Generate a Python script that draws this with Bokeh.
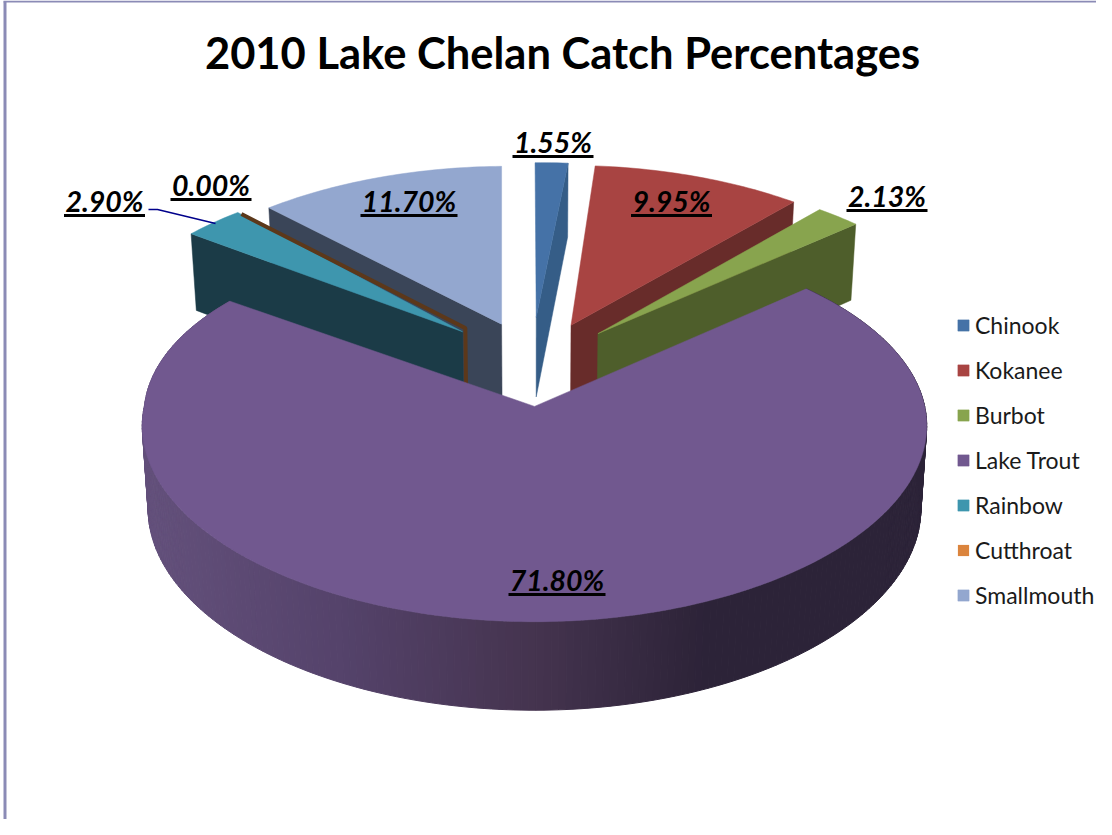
from bokeh.plotting import figure
from bokeh.models import Legend, LegendItem, Range1d
from bokeh.core.properties import value
from bokeh.embed import file_html
from bokeh.resources import INLINE
import numpy as np

# ---- data ----
species = ["Chinook", "Kokanee", "Burbot", "Lake Trout", "Rainbow", "Cutthroat", "Smallmouth"]
percent = [1.55, 9.95, 2.13, 71.80, 2.90, 0.00, 11.70]
labels = ["1.55%", "9.95%", "2.13%", "71.80%", "2.90%", "0.00%", "11.70%"]
title_text = "2010 Lake Chelan Catch Percentages"

# ---- styles ----
top_col = ["#4572a7", "#a84442", "#88a44e", "#71588f", "#3e96ae", "#db843d", "#93a7cf"]
side_col = ["#355d87", "#682c2a", "#4e5e2b", "#4d3c60", "#1b3b47", "#5c381a", "#3a4558"]
label_xy = [(552.5, 141), (671, 200), (886.5, 195), (556.5, 579), (104, 200), (210.5, 184), (408.5, 200)]
underline_y = [156, 215, 210, 594, 215, 199, 215]
FONT = "Lato"

# ---- pie projection (pixels) ----
CX, CY = 536.0, 405.0
THETA0 = -1.0
EXPLODE = 0.235
CENTRE_Y = 0.23
LT = 3
# small per-slice pixel nudges of the perspective picture
slice_shift = [(2, 0), (1, 0), (0, 0), (0, 0), (2, -4), (0, 0), (1, 1)]
apex_shift = [(-5, -5), (0, 0), (0, 0), (0, 0), (-10, 0), (-11, -5), (-3, -2)]


def fy(Y):
    return 188.4 * Y - 22.1 * Y ** 2 + 4.53 * Y ** 3


def gx(Y):
    return 390.0 / (1 + 0.102 * Y)


def depth(Y):
    return 82.5 - 6.0 * Y


def proj(X, Y, bottom=False, i=None):
    X, Y = np.asarray(X, float), np.asarray(Y, float)
    if i == LT:
        X = np.where((X < 0) & (Y > 0), X * (1 + 0.05 * Y), X)
    x = CX + gx(Y) * X * (0.985 if bottom else 1.0)
    y = CY - fy(Y) + (depth(Y) if bottom else 0.0)
    if i is not None:
        x = x + slice_shift[i][0]
        y = y + slice_shift[i][1]
    return x, y


total = sum(percent)
edges = THETA0 + np.concatenate([[0], np.cumsum(percent)]) * 360.0 / total

p = figure(width=1096, height=819, x_range=Range1d(0, 1096), y_range=Range1d(819, 0),
           output_backend="svg", toolbar_location=None, min_border=0,
           outline_line_color=None, background_fill_color="white", border_fill_color="white")
p.axis.visible = False
p.grid.visible = False

# frame of the original chart area
p.line([4.5, 4.5], [819, 1], line_color="#8b8bb6", line_width=3)
p.line([3, 1096], [1, 1], line_color="#8b8bb6", line_width=2)


def wedge(i):
    a0, a1 = np.radians(edges[i]), np.radians(edges[i + 1])
    mid = (a0 + a1) / 2
    ax = EXPLODE * np.sin(mid) if i != LT else -2.0 / 390.0
    ay = CENTRE_Y + EXPLODE * np.cos(mid)
    n = max(2, int(np.degrees(a1 - a0)) + 2)
    t = np.linspace(a0, a1, n)
    return ax, ay, ax + np.sin(t), ay + np.cos(t), t


def apex(i, bottom=False):
    ax, ay, *_ = wedge(i)
    x, y = proj([ax], [ay], bottom=bottom, i=i)
    return x + apex_shift[i][0], y + apex_shift[i][1]


top_renderers = {}


def draw_top(i, line=True):
    _, _, rx, ry, _ = wedge(i)
    xr, yr = proj(rx, ry, i=i)
    xa, ya = apex(i)
    top_renderers[i] = p.patch(np.r_[xa, xr], np.r_[ya, yr], fill_color=top_col[i], line_color=top_col[i],
                               line_width=0.5, line_alpha=1.0 if line else 0.0)


def draw_cut(i, at_end):
    _, _, rx, ry, _ = wedge(i)
    k = -1 if at_end else 0
    x1, y1 = proj([rx[k]], [ry[k]], i=i)
    x2, y2 = proj([rx[k]], [ry[k]], bottom=True, i=i)
    xa, ya = apex(i)
    xb, yb = apex(i, bottom=True)
    p.patch(np.r_[xa, x1, x2, xb], np.r_[ya, y1, y2, yb],
            fill_color=side_col[i], line_color=side_col[i], line_width=0.5)


# back slices, painted from the back to the front
for i, at_end in [(0, True), (1, True), (2, True), (6, False)]:
    draw_cut(i, at_end)
    draw_top(i)

draw_cut(4, False)
draw_top(4)

# Cutthroat: no area, only a thin sliver is visible
_, _, rx5, ry5, _ = wedge(5)
x5, y5 = proj([rx5[0]], [ry5[0]], i=5)
xa5, ya5 = apex(5)
xb5, yb5 = apex(5, bottom=True)
p.line(list(x5) + list(xa5) + list(xb5), list(y5) + list(ya5) + list(yb5), line_color=side_col[5], line_width=4)
draw_top(5, line=False)

# Lake Trout rim with its shading, then its top
ax, ay, rx, ry, t = wedge(LT)
ramp = [(0.0, "#64517c"), (0.25, "#55436b"), (0.5, "#45344f"), (0.72, "#2c2338"), (1.0, "#2c2338")]
stops = np.array([r[0] for r in ramp])
rgb = np.array([[int(r[1][j:j + 2], 16) for j in (1, 3, 5)] for r in ramp], float)
tt = np.linspace(t[0], t[-1], 260)
RX, RY = ax + np.sin(tt), ay + np.cos(tt)
for j in range(len(tt) - 1, 0, -1):
    Xs, Ys = RX[j - 1:j + 1], RY[j - 1:j + 1]
    x1, y1 = proj(Xs, Ys, i=LT)
    x2, y2 = proj(Xs, Ys, bottom=True, i=LT)
    f = np.clip((x1.mean() - 142) / (928 - 142), 0, 1)
    c = [int(np.interp(f, stops, rgb[:, m])) for m in range(3)]
    col = "#%02x%02x%02x" % tuple(c)
    p.patch(np.r_[x1, x2[::-1]], np.r_[y1, y2[::-1]], fill_color=col, line_color=col, line_width=1)
draw_top(LT)

# leader line of the Rainbow label
p.line([148, 157, 215], [209, 209, 223], line_color="#00008b", line_width=1.5)

# title and data labels
p.text([562], [51], text=[title_text], text_font=value(FONT), text_font_style="bold",
       text_font_size="43.5px", text_color="black", text_align="center", text_baseline="middle")
for (lxp, lyp), uy, s in zip(label_xy, underline_y, labels):
    p.text([lxp], [lyp], text=[s], text_font=value(FONT), text_font_style="bold italic",
           text_font_size="28.5px", text_color="black", text_align="center", text_baseline="middle")
    w = 81 if len(s) == 5 else 97
    p.line([lxp - w / 2, lxp + w / 2], [uy, uy], line_color="black", line_width=3)

# legend
items = [LegendItem(label=value(species[i]), renderers=[top_renderers[i]]) for i in range(len(species))]
legend = Legend(items=items, location=(956, 210), orientation="vertical",
                glyph_width=14, glyph_height=14, label_height=20, spacing=17, padding=0, margin=0,
                label_standoff=5, border_line_color=None, background_fill_alpha=0,
                label_text_font=FONT, label_text_font_size="23px", label_text_color="#1a1a1a")
p.add_layout(legend, "center")

open("out.html", "w").write(file_html(p, INLINE))
